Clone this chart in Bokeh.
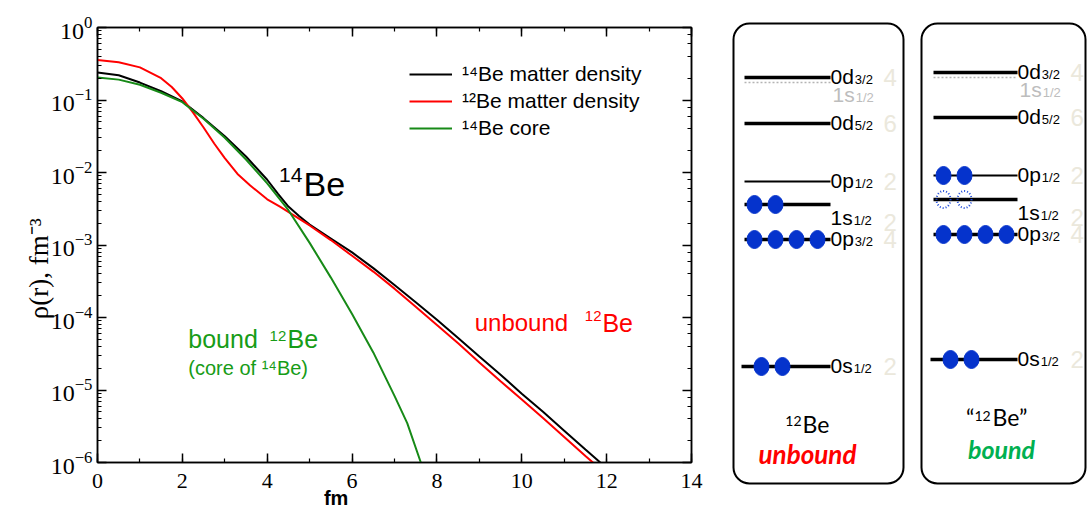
import math
from bokeh.plotting import figure
from bokeh.models import (Range1d, LinearAxis, LogAxis, Legend, LegendItem, Label,
                          BoxAnnotation, SingleIntervalTicker, LogTicker,
                          CustomJSTickFormatter)
from bokeh.layouts import row
from bokeh.embed import file_html
from bokeh.resources import INLINE
from bokeh.core.properties import value

# ---------------- data: densities (fm^-3) vs r (fm) ----------------
r_14be = [0, 0.5, 1, 1.5, 2, 2.5, 3, 3.5, 4, 4.25, 4.5, 4.75, 5, 5.5, 6, 6.5, 7, 7.5,
          8, 8.5, 9, 9.5, 10, 10.5, 11, 11.5, 11.85]
rho_14be = [0.240, 0.219, 0.174, 0.132, 0.0955, 0.0562, 0.0316, 0.0166, 0.00794,
            0.00513, 0.00339, 0.00251, 0.00191, 0.00123, 7.9e-4, 4.8e-4, 2.8e-4,
            1.62e-4, 9.3e-5, 5.2e-5, 2.9e-5, 1.62e-5, 8.9e-6, 5.0e-6, 2.75e-6,
            1.51e-6, 1.0e-6]

r_12be = [0, 0.5, 1, 1.5, 1.75, 2, 2.25, 2.5, 2.75, 3, 3.3, 3.6, 4, 4.3, 4.6, 5, 5.5,
          6, 6.5, 7, 7.5, 8, 8.5, 9, 9.5, 10, 10.5, 11, 11.5, 11.72]
rho_12be = [0.355, 0.331, 0.282, 0.200, 0.151, 0.105, 0.0676, 0.0417, 0.0251, 0.0158,
            0.00955, 0.00661, 0.00427, 0.00339, 0.00263, 0.00186, 0.00117, 7.1e-4,
            4.3e-4, 2.5e-4, 1.41e-4, 7.9e-5, 4.4e-5, 2.4e-5, 1.32e-5, 7.4e-6, 4.1e-6,
            2.24e-6, 1.23e-6, 0.95e-6]

r_core = [0, 0.5, 1, 1.5, 2, 2.5, 3, 3.5, 4, 4.5, 5, 5.5, 6, 6.5, 7, 7.3, 7.62]
rho_core = [0.204, 0.191, 0.162, 0.126, 0.0933, 0.0550, 0.0302, 0.0151, 0.00708,
            0.00302, 0.00107, 3.55e-4, 1.12e-4, 3.3e-5, 8.3e-6, 3.5e-6, 1.0e-6]

legend_labels = ["¹⁴Be matter density", "¹²Be matter density", "¹⁴Be core"]
x_title = "fm"
y_title = "ρ(r), fm⁻³"

# ---------------- data: shell-model level schemes ----------------
orbitals = ["0s", "0p", "1s", "0p", "0d", "0d"]
j_values = ["1/2", "3/2", "1/2", "1/2", "5/2", "3/2"]
capacity = [2, 4, 2, 2, 6, 4]
unbound_E = [145, 272, 307, 330, 388, 434]      # diagram heights
bound_E = [152, 277, 312, 336, 394, 439]
unbound_occ = [2, 4, 2, 0, 0, 0]
bound_occ = [2, 4, 0, 2, 0, 0]
bound_holes = [0, 0, 2, 0, 0, 0]
unbound_sd_1s = 429
bound_sd_1s = 434

SANS = "Liberation Sans"
SERIF = "Liberation Serif"
BLACK, RED, GREEN = "#000000", "#ff0000", "#178a17"
NBSP = "\u00a0"

# ======================= left: density plot =======================
p1 = figure(width=720, height=511, x_range=Range1d(0, 14), y_range=Range1d(1e-6, 1),
            y_axis_type="log", output_backend="svg", toolbar_location=None,
            min_border_left=97, min_border_right=29, min_border_top=27, min_border_bottom=49)
p1.frame_align = False
p1.title.visible = False
p1.grid.visible = False
p1.outline_line_color = "black"
p1.outline_line_width = 1.5
p1.background_fill_color = "white"
p1.border_fill_color = "white"

xa = p1.below[0]
ya = p1.left[0]
xa.ticker = SingleIntervalTicker(interval=2, num_minor_ticks=2)
top_axis = LinearAxis(ticker=SingleIntervalTicker(interval=2, num_minor_ticks=2),
                      formatter=CustomJSTickFormatter(code="return '';"))
right_axis = LogAxis(ticker=LogTicker(), formatter=CustomJSTickFormatter(code="return '';"))
p1.add_layout(top_axis, "above")
p1.add_layout(right_axis, "right")

for ax in (xa, ya, top_axis, right_axis):
    ax.major_tick_in = 9
    ax.major_tick_out = 0
    ax.minor_tick_in = 4
    ax.minor_tick_out = 0
    ax.axis_line_width = 1.5
    ax.major_tick_line_width = 1.5
    ax.minor_tick_line_width = 1.2
    ax.major_label_text_font = SERIF
    ax.major_label_text_color = "black"

xa.major_label_text_font_size = "22px"
xa.major_label_standoff = 11
xa.axis_label = x_title + NBSP * 21
xa.axis_label_text_font = SANS
xa.axis_label_text_font_style = "bold"
xa.axis_label_text_font_size = "20px"
xa.axis_label_text_color = "black"
xa.axis_label_standoff = -4

ya.major_label_text_font_size = "24px"
ya.major_label_standoff = 5
ya.axis_label = y_title + NBSP * 7
ya.axis_label_text_font = SERIF
ya.axis_label_text_font_style = "normal"
ya.axis_label_text_font_size = "27px"
ya.axis_label_text_color = "black"
ya.axis_label_standoff = -6

for ax in (top_axis, right_axis):
    ax.major_label_text_font_size = "10px"
    ax.major_label_standoff = 0

l_14 = p1.line(r_14be, rho_14be, line_color=BLACK, line_width=2)
l_12 = p1.line(r_12be, rho_12be, line_color=RED, line_width=2)
l_core = p1.line(r_core, rho_core, line_color=GREEN, line_width=2)

legend = Legend(items=[LegendItem(label=legend_labels[0], renderers=[l_14]),
                       LegendItem(label=legend_labels[1], renderers=[l_12]),
                       LegendItem(label=legend_labels[2], renderers=[l_core])],
                location=(312, 322), orientation="vertical",
                label_text_font=SANS, label_text_font_size="21px",
                label_text_color="black",
                glyph_width=43, glyph_height=22, label_height=22, spacing=3,
                padding=0, margin=0, label_standoff=10,
                border_line_color=None, background_fill_alpha=0)
p1.add_layout(legend)

def lab(fig, x, y, text, size, color="black", font=SANS, align="left",
        style="normal"):
    fig.add_layout(Label(x=x, y=y, text=text, text_font=font, text_font_size=size,
                         text_color=color, text_align=align, text_baseline="middle",
                         text_font_style=style))

# in-plot annotations
lab(p1, 4.83, 10 ** -2.03, "14", "21px", align="right")
lab(p1, 4.855, 10 ** -2.16, "Be", "34px")

lab(p1, 8.89, 10 ** -4.07, "unbound", "24px", color=RED)
lab(p1, 11.88, 10 ** -3.98, "12", "15px", color=RED, align="right")
lab(p1, 11.90, 10 ** -4.07, "Be", "25px", color=RED)

GTXT = "#179c17"
lab(p1, 2.14, 10 ** -4.30, "bound", "25px", color=GTXT)
lab(p1, 4.45, 10 ** -4.25, "12", "15px", color=GTXT, align="right")
lab(p1, 4.48, 10 ** -4.30, "Be", "25px", color=GTXT)
lab(p1, 2.14, 10 ** -4.69, "(core of ¹⁴Be)", "20px", color=GTXT)

# ======================= right: level schemes =======================
p2 = figure(width=367, height=511, x_range=Range1d(0, 367), y_range=Range1d(0, 511),
            output_backend="svg", toolbar_location=None, min_border=0,
            x_axis_location=None, y_axis_location=None)
p2.frame_align = False
p2.title.visible = False
p2.grid.visible = False
p2.outline_line_color = None
p2.background_fill_color = "white"
p2.border_fill_color = "white"

ADV = {"0": 0.556, "1": 0.556, "d": 0.556, "p": 0.556, "s": 0.5}
BLUE = "#0533cc"

def scheme(E, occ, holes, sd_1s, x0, x1, box_l, box_r):
    p2.add_layout(BoxAnnotation(left=box_l, right=box_r, bottom=28, top=488,
                                border_radius=16, fill_alpha=0, line_color="black",
                                line_alpha=1, line_width=2))
    widths = [2 if (o == "0p" and j == "1/2") else 3.5 for o, j in zip(orbitals, j_values)]
    starts = [x0 - 3 if o == "0s" else x0 for o in orbitals]
    p2.segment(x0=starts, y0=E, x1=[x1] * len(E), y1=E, line_color="black",
               line_width=widths)
    # dotted sd-shell 1s1/2 position
    p2.segment(x0=[x0], y0=[sd_1s], x1=[x1], y1=[sd_1s], line_color="#b4b4b4",
               line_width=1.5, line_dash="2 2")
    # nucleons
    dx, dy, hx, hy = [], [], [], []
    for i, e in enumerate(E):
        first = starts[i] + (20 if orbitals[i] == "0s" else 10)
        for k in range(occ[i]):
            dx.append(first + 21 * k)
            dy.append(e)
        for k in range(holes[i]):
            hx.append(first + 21 * k)
            hy.append(e)
    p2.ellipse(dx, dy, width=15, height=18, fill_color=BLUE, line_color=BLUE)
    if hx:
        p2.ellipse(hx, hy, width=14, height=17, fill_color=None, line_color="#1c48d8",
                   line_width=2, line_dash="1 2")
    # labels
    lab_dy = [-14 if o == "1s" else 0 for o in orbitals]
    num_dy = [-18 if o == "1s" else 0 for o in orbitals]
    p2.text(x=[x1] * len(E), y=[e + d + 1.2 for e, d in zip(E, lab_dy)], text=orbitals,
            text_font=value(SANS), text_font_size="21px", text_baseline="middle",
            text_color="black")
    sub_x = [x1 + 21 * sum(ADV[c] for c in o) + 1 for o in orbitals]
    p2.text(x=sub_x, y=[e + d - 1.7 for e, d in zip(E, lab_dy)], text=j_values,
            text_font=value(SANS), text_font_size="13px", text_baseline="middle",
            text_color="black")
    p2.text(x=[x1 + 53] * len(E), y=[e + d for e, d in zip(E, num_dy)],
            text=[str(c) for c in capacity], text_font=value(SANS),
            text_font_size="24px", text_baseline="middle", text_color="#ebe8dc")
    p2.text(x=[x1 + 2], y=[sd_1s - 13 + 1.2], text=["1s"], text_font=value(SANS),
            text_font_size="21px", text_baseline="middle", text_color="#bdbdbd")
    p2.text(x=[x1 + 2 + 21 * 1.056 + 1], y=[sd_1s - 13 - 1.7], text=["1/2"],
            text_font=value(SANS), text_font_size="13px", text_baseline="middle",
            text_color="#bdbdbd")

scheme(unbound_E, unbound_occ, [0] * 6, unbound_sd_1s, 24, 110, 13, 183)
scheme(bound_E, bound_occ, bound_holes, bound_sd_1s, 213, 297, 201, 365)

LATO = "Lato"
lab(p2, 81, 91, "12", "14px", font=LATO, align="right")
lab(p2, 82, 87.3, "Be", "23px", font=LATO)
lab(p2, 87, 57.6, "unbound", "26px", color=RED, font=LATO, align="center",
    style="bold italic")

lab(p2, 254, 94.3, "“", "23px", font=LATO, align="right")
lab(p2, 254, 96, "12", "14px", font=LATO)
lab(p2, 272, 94.3, "Be”", "23px", font=LATO)
lab(p2, 281, 62.6, "bound", "25px", color="#00b050", font=LATO, align="center",
    style="bold italic")

layout = row(p1, p2)
open("out.html", "w").write(file_html(layout, INLINE))
